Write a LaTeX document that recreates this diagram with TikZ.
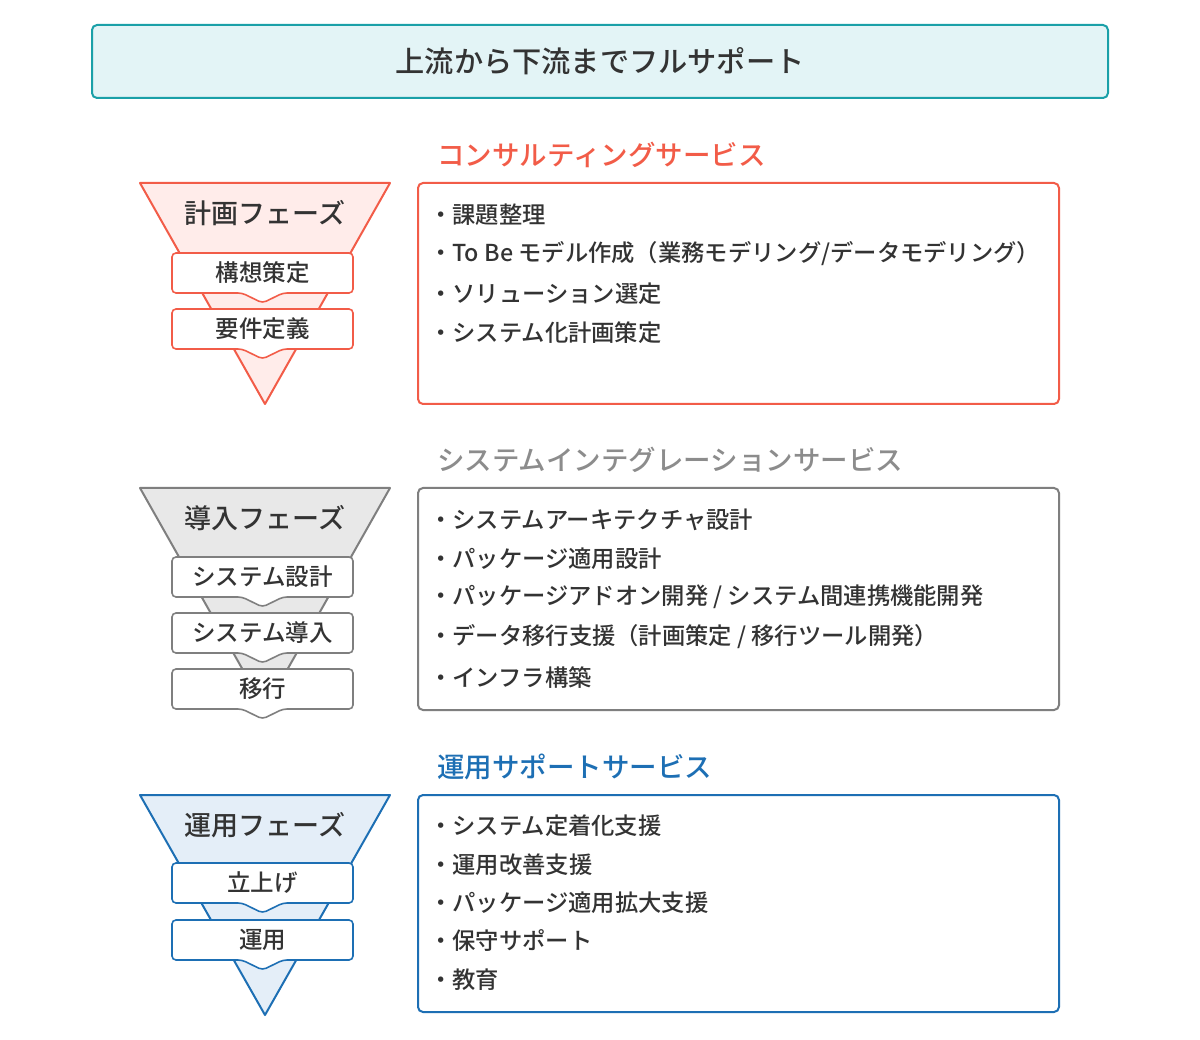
\documentclass[tikz,border=0pt]{standalone}
\usepackage{fontspec}
\setmainfont{Noto Sans CJK JP}
\newfontfamily\jpmedium{Noto Sans CJK JP Medium}
\usepackage{tikz}
\usepackage{xcolor}
\definecolor{ink}{HTML}{333333}
\definecolor{tealline}{HTML}{1AA0A8}
\definecolor{tealbg}{HTML}{E3F4F6}
\definecolor{redline}{HTML}{F25C48}
\definecolor{redbg}{HTML}{FFECEA}
\definecolor{grayline}{HTML}{7F7F7F}
\definecolor{grayhead}{HTML}{8C8C8C}
\definecolor{graybg}{HTML}{E8E8E8}
\definecolor{blueline}{HTML}{1D6FB4}
\definecolor{bluebg}{HTML}{E4EEF8}

\begin{document}
\begin{tikzpicture}[x=1pt,y=-1pt,
  item/.style={anchor=west,inner sep=0pt,text=ink,font=\fontsize{23.3}{26}\jpmedium},
  head/.style={anchor=west,inner sep=0pt,font=\fontsize{27.5}{30}\jpmedium},
  phase/.style={inner sep=0pt,text=ink,font=\fontsize{27}{30}\jpmedium},
  steptxt/.style={inner sep=0pt,text=ink,font=\fontsize{23.5}{26}\jpmedium},
  card/.style={line width=2pt,rounded corners=5pt,fill=white},
  stepbox/.style={line width=1.6pt,rounded corners=4pt,fill=white},
  funnel/.style={line width=2pt,line join=round}]
\useasboundingbox[fill=white] (0,0) rectangle (1200,1040);
\node[draw=tealline,fill=tealbg,line width=2pt,rounded corners=5pt,minimum width=1016pt,minimum height=73pt,inner sep=0pt,text=ink,font=\fontsize{29.2}{32}\jpmedium] (title) at (600,61.5) {上流から下流までフルサポート};

\node[head,text=redline] (h1) at (437,155) {コンサルティングサービス};
\draw[card,draw=redline] (418,183) rectangle (1059,404);
\draw[funnel,draw=redline,fill=redbg] (140,183) -- (390,183) -- (265,404) -- cycle;
\node[phase] (p1) at (265,213) {計画フェーズ};
\foreach \y/\t [count=\k] in {253/構想策定,309/要件定義}{
  \draw[stepbox,draw=redline] (172,\y) -- ++(181,0) -- ++(0,40) -- ++(-70,0) -- ++(-20.5,10) -- ++(-20.5,-10) -- ++(-70,0) -- cycle;
  \node[steptxt] (r\k) at (262.5,\y+20) {\t};}
\foreach \y/\t [count=\k] in {215/{課題整理},254/{To Be モデル作成（業務モデリング/データモデリング）},294/{ソリューション選定},333/{システム化計画策定}}
  \node[item] (ri\k) at (429,\y) {・\t};

\node[head,text=grayhead] (h2) at (437,460) {システムインテグレーションサービス};
\draw[card,draw=grayline] (418,488) rectangle (1059,710);
\draw[funnel,draw=grayline,fill=graybg] (140,488) -- (390,488) -- (265,709) -- cycle;
\node[phase] (p2) at (265,518) {導入フェーズ};
\foreach \y/\t [count=\k] in {557/システム設計,613/システム導入,669/移行}{
  \draw[stepbox,draw=grayline] (172,\y) -- ++(181,0) -- ++(0,40) -- ++(-70,0) -- ++(-20.5,10) -- ++(-20.5,-10) -- ++(-70,0) -- cycle;
  \node[steptxt] (g\k) at (262.5,\y+20) {\t};}
\foreach \y/\t [count=\k] in {520/{システムアーキテクチャ設計},559/{パッケージ適用設計},597/{パッケージアドオン開発 / システム間連携機能開発},637/{データ移行支援（計画策定 / 移行ツール開発）},678/{インフラ構築}}
  \node[item] (gi\k) at (429,\y) {・\t};

\node[head,text=blueline] (h3) at (437,767) {運用サポートサービス};
\draw[card,draw=blueline] (418,795) rectangle (1059,1012);
\draw[funnel,draw=blueline,fill=bluebg] (140,795) -- (390,795) -- (265,1015) -- cycle;
\node[phase] (p3) at (265,825) {運用フェーズ};
\foreach \y/\t [count=\k] in {863/立上げ,920/運用}{
  \draw[stepbox,draw=blueline] (172,\y) -- ++(181,0) -- ++(0,40) -- ++(-70,0) -- ++(-20.5,10) -- ++(-20.5,-10) -- ++(-70,0) -- cycle;
  \node[steptxt] (b\k) at (262.5,\y+20) {\t};}
\foreach \y/\t [count=\k] in {826/{システム定着化支援},865/{運用改善支援},903/{パッケージ適用拡大支援},941/{保守サポート},980/{教育}}
  \node[item] (bi\k) at (429,\y) {・\t};
\end{tikzpicture}
\end{document}
